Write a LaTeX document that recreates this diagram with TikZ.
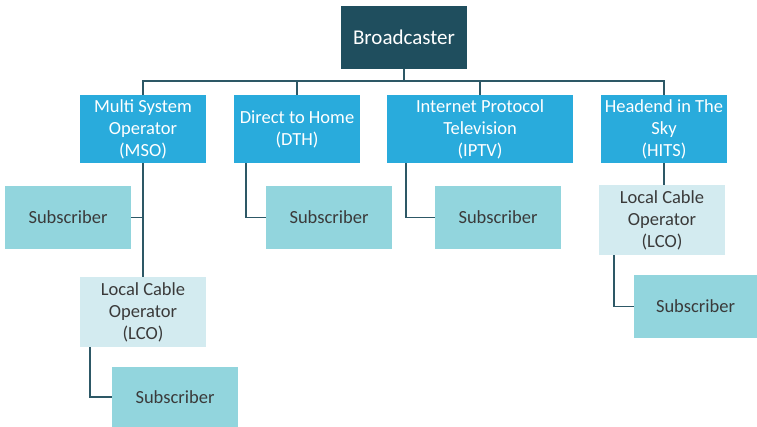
\documentclass[tikz,border=0pt]{standalone}
\usepackage{fontspec}
\setmainfont{Carlito}
\usetikzlibrary{positioning}
\definecolor{darkteal}{HTML}{1F4E5E}
\definecolor{skyblue}{HTML}{29ABDC}
\definecolor{subteal}{HTML}{92D5DD}
\definecolor{paleteal}{HTML}{D3EBF0}
\definecolor{linkcol}{HTML}{2D5866}
\definecolor{txtgray}{HTML}{3A3A3A}

\begin{document}
\begin{tikzpicture}[x=1pt,y=-1pt,
	box/.style={inner sep=0pt,minimum width=126pt,minimum height=68pt,align=center,font=\fontsize{18.5}{22}\selectfont},
	top/.style={box,fill=darkteal,text=white,minimum height=63pt,font=\fontsize{21}{25}\selectfont},
	svc/.style={box,fill=skyblue,text=white},
	subbox/.style={box,fill=subteal,text=txtgray,minimum height=63pt},
	lcobox/.style={box,fill=paleteal,text=txtgray,minimum height=70pt},
	link/.style={draw=linkcol,line width=1.8pt}]
	\useasboundingbox[fill=white] (0,0) rectangle (757,427);

	\node[top](bc) at (404,37.5){Broadcaster};
	\node[svc](mso) at (143,129){Multi System\\Operator\\(MSO)};
	\node[svc](dth) at (297,129){Direct to Home\\(DTH)};
	\node[svc,minimum width=186pt](iptv) at (480,129){Internet Protocol\\Television\\(IPTV)};
	\node[svc](hits) at (664,129){Headend in The\\Sky\\(HITS)};

	\node[subbox](subA) at (68,217.5){Subscriber};
	\node[subbox](subB) at (329,217.5){Subscriber};
	\node[subbox](subC) at (498,217.5){Subscriber};
	\node[lcobox](lcoA) at (143,312){Local Cable\\Operator\\(LCO)};
	\node[subbox,minimum height=60pt](subD) at (175,397){Subscriber};
	\node[lcobox](lcoB) at (662,220){Local Cable\\Operator\\(LCO)};
	\node[subbox,minimum width=123pt](subE) at (695.5,306.5){Subscriber};

	\coordinate (bus) at (404,81);
	\draw[link] (bc.south) -- (bus);
	\draw[link] (mso.north) |- (bus) -| (hits.north);
	\draw[link] (dth.north) -- (dth.north |- bus);
	\draw[link] (iptv.north) -- (iptv.north |- bus);

	\draw[link] (mso.south) -- (lcoA.north);
	\draw[link] (subA.east) -- (subA.east -| mso.south);
	\draw[link] ([xshift=12pt]dth.south west) |- (subB.west);
	\draw[link] ([xshift=19pt]iptv.south west) |- (subC.west);
	\draw[link] ([xshift=10pt]lcoA.south west) |- (subD.west);
	\draw[link] (hits.south) -- (hits.south |- lcoB.north);
	\draw[link] ([xshift=15pt]lcoB.south west) |- (subE.west);
\end{tikzpicture}
\end{document}
